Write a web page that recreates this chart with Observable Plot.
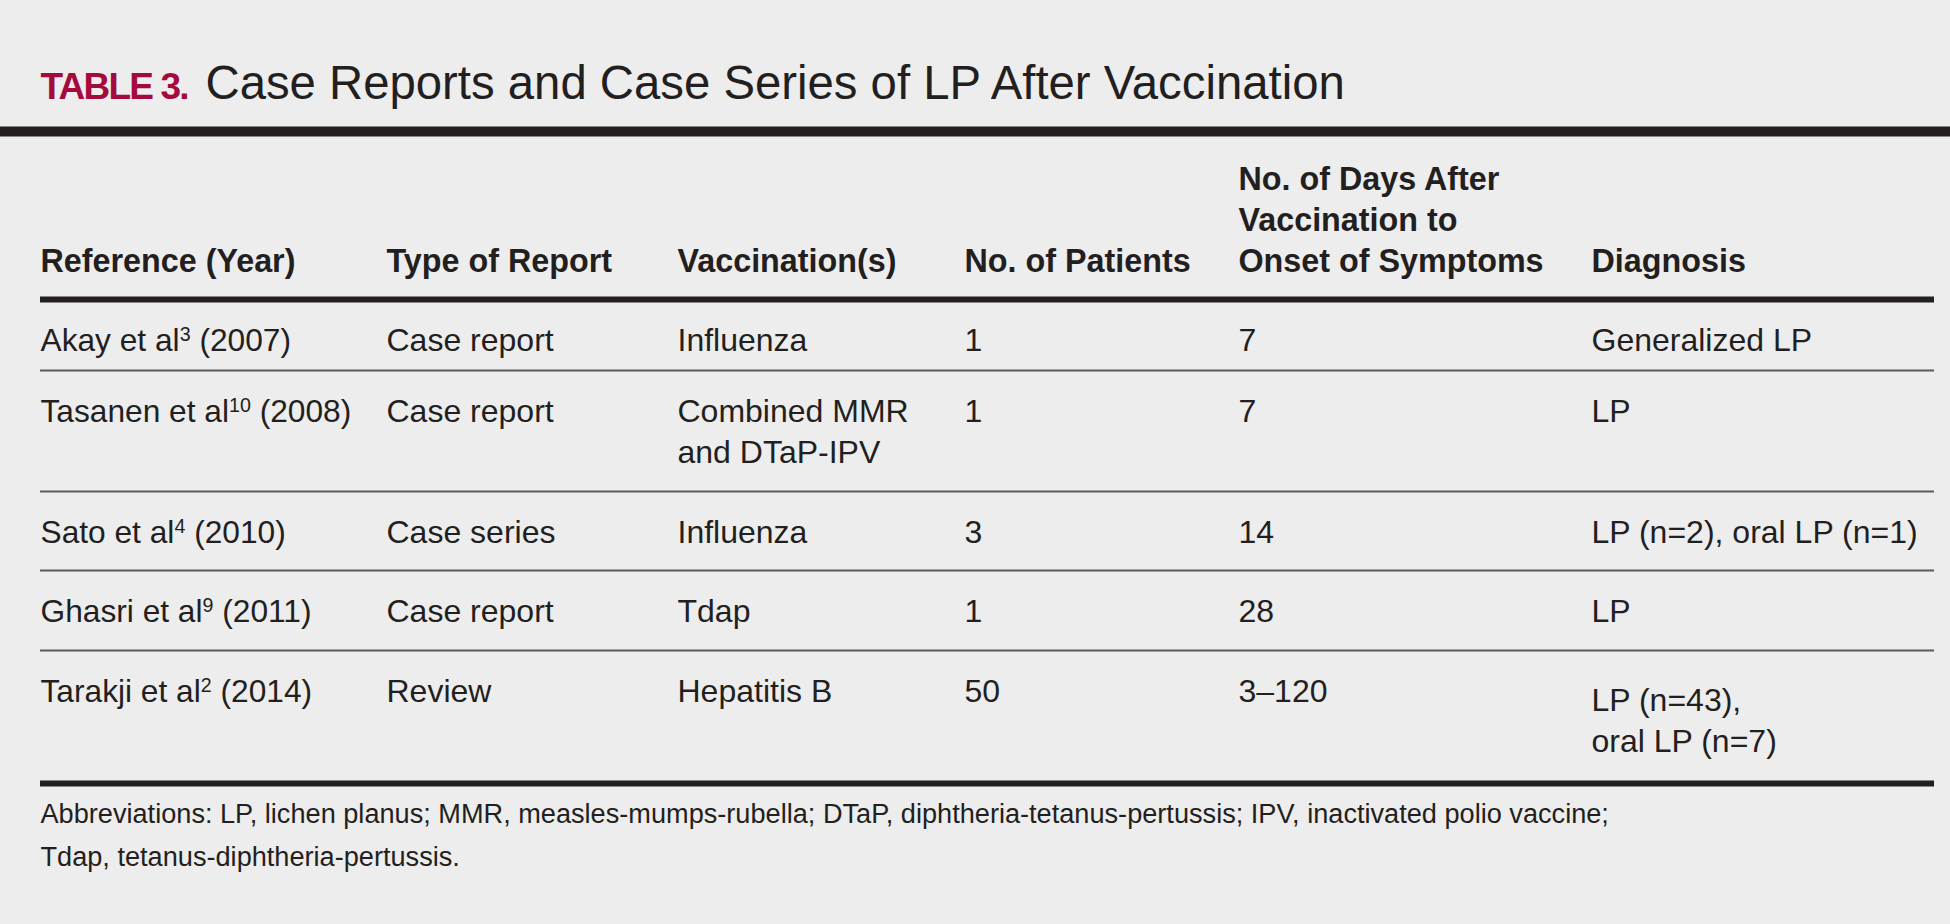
<!DOCTYPE html>
<html>
<head>
<meta charset="utf-8">
<script src="https://cdn.jsdelivr.net/npm/d3@7"></script>
<script src="https://cdn.jsdelivr.net/npm/@observablehq/plot@0.6"></script>
<style>
  html, body { margin: 0; padding: 0; background: #ededed; overflow: hidden; }
  #chart svg { display: block; }
</style>
</head>
<body>
<div id="chart"></div>
<script>
// ---------------- data ----------------
const tableLabel = "TABLE 3.";
const tableTitle = "Case Reports and Case Series of LP After Vaccination";
const headers = [
  "Reference (Year)",
  "Type of Report",
  "Vaccination(s)",
  "No. of Patients",
  "No. of Days After\nVaccination to\nOnset of Symptoms",
  "Diagnosis"
];
const refAuthors = ["Akay et al", "Tasanen et al", "Sato et al", "Ghasri et al", "Tarakji et al"];
const refCitations = ["3", "10", "4", "9", "2"];
const refYears = ["2007", "2008", "2010", "2011", "2014"];
const reportTypes = ["Case report", "Case report", "Case series", "Case report", "Review"];
const vaccinations = ["Influenza", "Combined MMR\nand DTaP-IPV", "Influenza", "Tdap", "Hepatitis B"];
const patientCounts = [1, 1, 3, 1, 50];
const daysToOnset = ["7", "7", "14", "28", "3–120"];
const diagnoses = ["Generalized LP", "LP", "LP (n=2), oral LP (n=1)", "LP", "LP (n=43),\noral LP (n=7)"];
const footnoteLines = [
  "Abbreviations: LP, lichen planus; MMR, measles-mumps-rubella; DTaP, diphtheria-tetanus-pertussis; IPV, inactivated polio vaccine;",
  "Tdap, tetanus-diphtheria-pertussis."
];

// ---------------- layout ----------------
const W = 1950, H = 924;
const FONT = "'Liberation Sans', Arial, Helvetica, sans-serif";
const INK = "#231f20";
const RED = "#a50a3c";
const colX = [40, 386, 677, 964, 1238, 1591];
const tableX1 = 40, tableX2 = 1934;
const rowRules = [299, 370, 491, 570, 650, 783]; // header rule, row separators, bottom rule
const baselineOffset = 51;
const lineGap = 41;
const headerBaseline = 271;
const titleBaseline = 98;
const titleRuleY = 131;
const footBaseline = 822;
const footGap = 43;
const cellShift = {"4-5": 9}; // last diagnosis cell sits a little lower

// ---------------- build cells ----------------
const columns = [
  null, // references handled separately (superscripts)
  reportTypes,
  vaccinations,
  patientCounts.map(String),
  daysToOnset,
  diagnoses
];
const bodyLines = [];
for (let r = 0; r < refAuthors.length; r++) {
  for (let c = 1; c < columns.length; c++) {
    const lines = columns[c][r].split("\n");
    lines.forEach((t, i) => bodyLines.push({
      text: t,
      x: colX[c],
      y: rowRules[r] + baselineOffset + i * lineGap + (cellShift[`${r}-${c}`] || 0)
    }));
  }
}
const refCells = refAuthors.map((a, r) => ({
  author: a, cite: refCitations[r], year: refYears[r],
  text: `${a}${refCitations[r]} (${refYears[r]})`,
  x: colX[0], y: rowRules[r] + baselineOffset
}));
const headerLines = [];
headers.forEach((h, c) => {
  const lines = h.split("\n");
  lines.forEach((t, i) => headerLines.push({
    text: t, x: colX[c], y: headerBaseline - (lines.length - 1 - i) * lineGap
  }));
});
const footLines = footnoteLines.map((t, i) => ({text: t, x: colX[0], y: footBaseline + i * footGap}));

const thinRules = rowRules.slice(1, -1);
const thickRules = [rowRules[0], rowRules[rowRules.length - 1]];

const textOpts = (o) => Object.assign({
  x: "x", y: "y", text: "text", textAnchor: "start", lineAnchor: "bottom",
  fontFamily: FONT, fill: INK
}, o);

const plot = Plot.plot({
  width: W, height: H,
  margin: 0,
  x: {domain: [0, W], range: [0, W], axis: null},
  y: {domain: [0, H], range: [0, H], axis: null},
  style: {background: "#ededed", fontFamily: FONT, overflow: "visible"},
  marks: [
    // title bar
    Plot.ruleY([titleRuleY], {y: d => d, x1: () => 0, x2: () => W, stroke: INK, strokeWidth: 10}),
    // table rules
    Plot.ruleY(thinRules, {y: d => d, x1: () => tableX1, x2: () => tableX2, stroke: "#5b5b5b", strokeWidth: 2.2}),
    Plot.ruleY(thickRules, {y: d => d, x1: () => tableX1, x2: () => tableX2, stroke: INK, strokeWidth: 6}),
    // title
    Plot.text([{text: tableLabel, x: colX[0], y: titleBaseline}], textOpts({fill: RED, fontSize: 37, fontWeight: "bold"})),
    Plot.text([{text: tableTitle, x: 205, y: titleBaseline}], textOpts({fontSize: 47.3})),
    // header
    Plot.text(headerLines, textOpts({fontSize: 32.3, fontWeight: "bold"})),
    // body
    Plot.text(refCells, textOpts({fontSize: 31.7})),
    Plot.text(bodyLines, textOpts({fontSize: 32})),
    // footnote
    Plot.text(footLines, textOpts({fontSize: 27.15}))
  ]
});

// post-process: letter spacing for the label, superscripts for citations
const NS = "http://www.w3.org/2000/svg";
const allText = Array.from(plot.querySelectorAll("text"));
allText.forEach(t => {
  if (t.textContent === tableLabel) t.setAttribute("letter-spacing", "-1.8");
  const ref = refCells.find(d => d.text === t.textContent);
  if (ref) {
    t.textContent = "";
    const a = document.createElementNS(NS, "tspan");
    a.textContent = ref.author;
    const s = document.createElementNS(NS, "tspan");
    s.textContent = ref.cite;
    s.setAttribute("font-size", "0.62em");
    s.setAttribute("dy", "-0.5em");
    const b = document.createElementNS(NS, "tspan");
    b.textContent = ` (${ref.year})`;
    b.setAttribute("dy", `${0.5 * 0.62}em`);
    t.append(a, s, b);
  }
});

document.getElementById("chart").append(plot);
</script>
</body>
</html>
